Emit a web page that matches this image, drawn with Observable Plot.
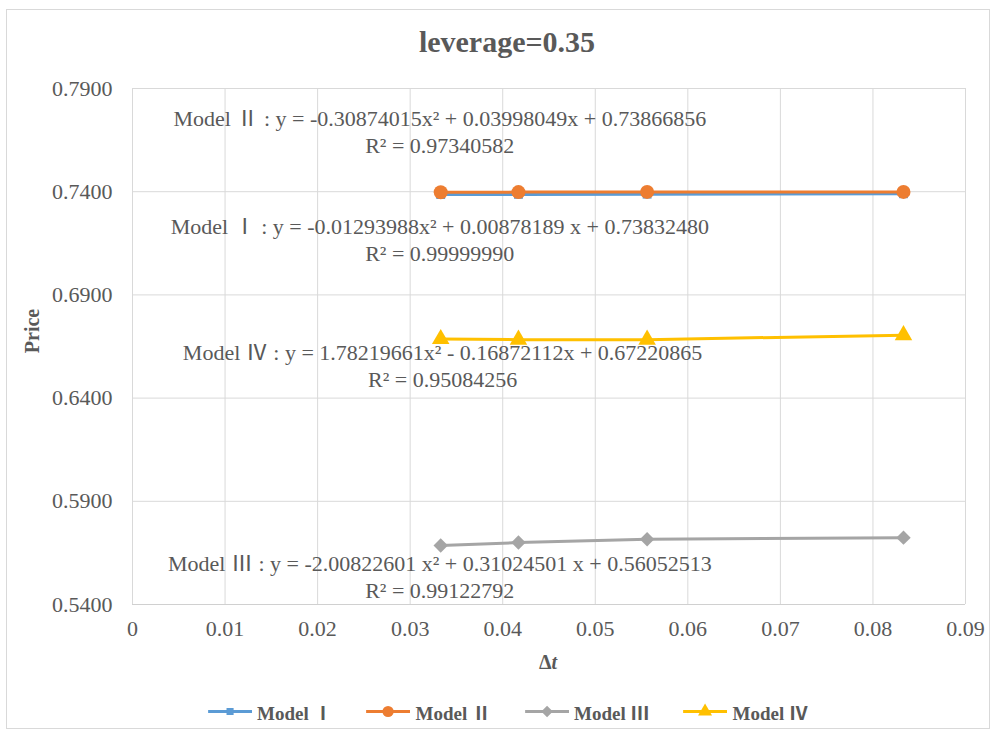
<!DOCTYPE html>
<html>
<head>
<meta charset="utf-8">
<script src="https://cdn.jsdelivr.net/npm/d3@7"></script>
<script src="https://cdn.jsdelivr.net/npm/@observablehq/plot@0.6"></script>
<style>
  html, body { margin: 0; padding: 0; background: #fff; }
  #wrap { position: relative; width: 998px; height: 737px; overflow: hidden; font-family: "Liberation Serif", "Noto Sans CJK SC", serif; color: #595959; }
  #border { position: absolute; left: 6px; top: 9px; width: 984px; height: 720px; border: 1px solid #d9d9d9; box-sizing: border-box; pointer-events: none; }
  #chart { position: absolute; left: 0; top: 0; }
  .ov { position: absolute; white-space: nowrap; }
  #title { left: 0; width: 1014px; top: 25px; text-align: center; font-size: 30px; font-weight: bold; line-height: 34px; }
  #ylab { left: 32px; top: 331px; transform: translate(-50%, -50%) rotate(-90deg); font-size: 20px; font-weight: bold; }
  #xlab { left: 548px; top: 662px; transform: translate(-50%, -50%); font-size: 20px; font-weight: bold; }
  #legend { left: 508px; top: 711px; transform: translate(-50%, -50%); display: flex; align-items: center; font-size: 19px; font-weight: bold; }
  .item { display: flex; align-items: center; margin: 0 17px; flex-shrink: 0; }
  .item svg { margin-right: 5px; flex-shrink: 0; }
</style>
</head>
<body>
<div id="wrap">
  <div id="chart"></div>
  <div id="border"></div>
  <div id="title" class="ov">leverage=0.35</div>
  <div id="ylab" class="ov">Price</div>
  <div id="xlab" class="ov">Δ<i>t</i></div>
  <div id="legend" class="ov"></div>
</div>
<script>
// ---- data ----
const dt = [0.0333, 0.0417, 0.0556, 0.0833];
const seriesNames = ["Model Ⅰ", "Model Ⅱ", "Model Ⅲ", "Model Ⅳ"];
const modelI   = [0.7386, 0.7387, 0.7388, 0.7390];
const modelII  = [0.7397, 0.7398, 0.7399, 0.7399];
const modelIII = [0.5686, 0.5700, 0.5716, 0.5724];
const modelIV  = [0.6686, 0.6683, 0.6683, 0.6705];
const xTicks = [0, 0.01, 0.02, 0.03, 0.04, 0.05, 0.06, 0.07, 0.08, 0.09];
const yTicks = [0.54, 0.59, 0.64, 0.69, 0.74, 0.79];
const fitLabels = [
  "Model Ⅱ : y = -0.30874015x² + 0.03998049x + 0.73866856\nR² = 0.97340582",
  "Model Ⅰ : y = -0.01293988x² + 0.00878189 x + 0.73832480\nR² = 0.99999990",
  "Model Ⅳ : y = 1.78219661x² - 0.16872112x + 0.67220865\nR² = 0.95084256",
  "Model Ⅲ : y = -2.00822601 x² + 0.31024501 x + 0.56052513\nR² = 0.99122792"
];
const fitLabelX = [0.0332, 0.0332, 0.0335, 0.0332];
const fitLabelY = [0.7694, 0.7171, 0.6560, 0.5538];

// ---- styling ----
const colors = ["#5b9bd5", "#ed7d31", "#a5a5a5", "#ffc000"];
const symbols = ["square", "circle", "diamond2", "triangle"];
const radii = [5, 7, 6.5, 6.5];

const allSeries = [modelI, modelII, modelIII, modelIV];
const rows = allSeries.flatMap((vals, si) => vals.map((v, i) => ({series: seriesNames[si], x: dt[i], y: v, si})));
const labels = fitLabels.map((t, i) => ({text: t, x: fitLabelX[i], y: fitLabelY[i]}));

const marks = [
  Plot.gridX(xTicks, {stroke: "#d9d9d9", strokeOpacity: 1}),
  Plot.gridY(yTicks, {stroke: "#d9d9d9", strokeOpacity: 1}),
  Plot.ruleY([0.54], {stroke: "#d0d0d0"}),
  Plot.axisX(xTicks, {tickSize: 0, tickPadding: 16, tickFormat: d => d === 0 ? "0" : d3.format(".2f")(d), fontSize: 22}),
  Plot.axisY(yTicks, {tickSize: 0, tickPadding: 20, tickFormat: d3.format(".4f"), fontSize: 22}),
  Plot.text(labels, {x: "x", y: "y", text: "text", fontSize: 22, lineHeight: 1.23, fill: "#595959", textAnchor: "middle"})
];
allSeries.forEach((vals, si) => {
  const d = rows.filter(r => r.si === si);
  marks.push(Plot.line(d, {x: "x", y: "y", stroke: colors[si], strokeWidth: 3}));
  marks.push(Plot.dot(d, {x: "x", y: "y", fill: colors[si], stroke: "none", symbol: symbols[si], r: radii[si]}));
});

const chart = Plot.plot({
  width: 998,
  height: 737,
  marginLeft: 132,
  marginRight: 33,
  marginTop: 88,
  marginBottom: 133,
  x: {domain: [0, 0.09], label: null},
  y: {domain: [0.54, 0.79], label: null},
  style: {fontFamily: '"Liberation Serif", "Noto Sans CJK SC", serif', color: "#595959", background: "transparent"},
  marks
});
document.getElementById("chart").appendChild(chart);

// ---- legend ----
const symMap = {square: d3.symbolSquare, circle: d3.symbolCircle, diamond2: d3.symbolDiamond2, triangle: d3.symbolTriangle};
const legend = d3.select("#legend");
seriesNames.forEach((name, i) => {
  const item = legend.append("div").attr("class", "item");
  const svg = item.append("svg").attr("width", 44).attr("height", 20).style("width", "44px").style("height", "20px");
  svg.append("line").attr("x1", 0).attr("x2", 44).attr("y1", 10).attr("y2", 10)
    .attr("stroke", colors[i]).attr("stroke-width", 3);
  const r = radii[i] * 0.8;
  svg.append("path").attr("transform", "translate(22,10)")
    .attr("d", d3.symbol(symMap[symbols[i]], Math.PI * r * r)())
    .attr("fill", colors[i]);
  item.append("span").text(name);
});
</script>
</body>
</html>
